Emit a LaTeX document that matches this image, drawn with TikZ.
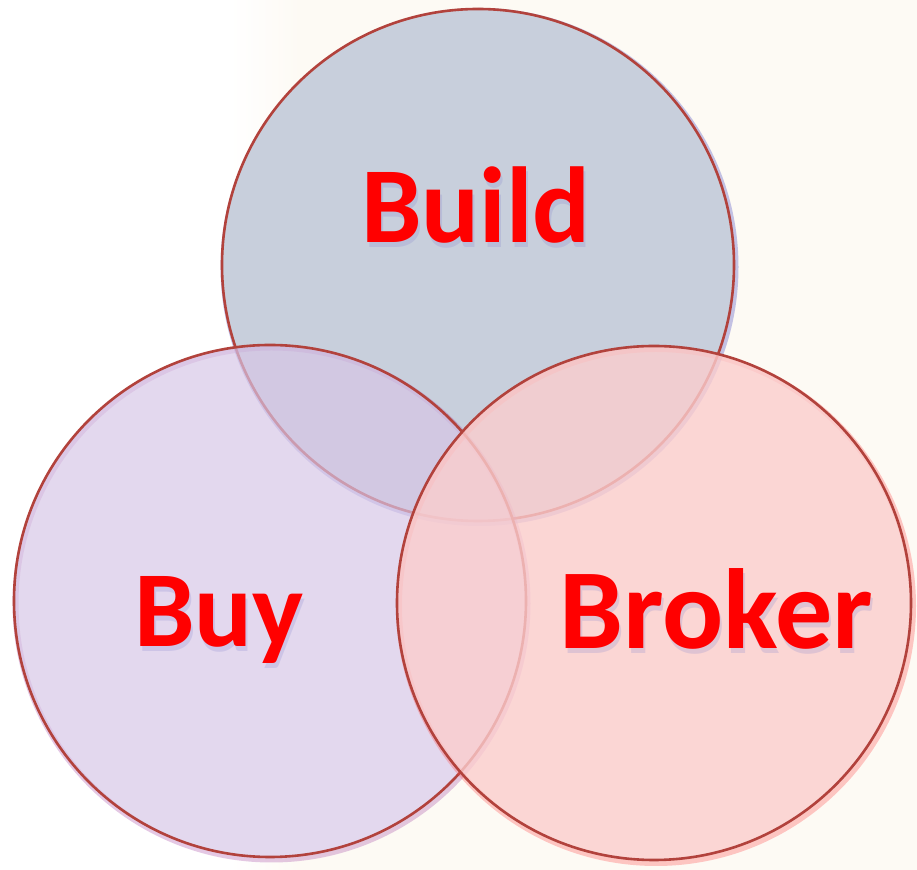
\documentclass[tikz,border=0pt]{standalone}
\usepackage{fontspec}
\setmainfont{Carlito}
\usepackage{tikz}
\definecolor{rim}{RGB}{178,66,60}
\definecolor{buildfill}{RGB}{200,207,220}
\definecolor{buyfill}{RGB}{215,198,230}
\definecolor{brokerfill}{RGB}{251,205,205}
\definecolor{wordred}{RGB}{255,0,0}
\definecolor{paper}{RGB}{253,250,244}
\tikzset{
    disc/.style={
            circle,
    draw=rim, line width=1.3pt,
    inner sep=0pt,
    minimum size=#1},
  glow/.style={draw=#1, line width=3pt, draw opacity=0.3},
  word/.style={
    text=wordred,
    font=\bfseries\fontsize{#1}{60}\selectfont,
    anchor=base, inner sep=0pt},
  wordshade/.style={word=#1, text=black!40!blue!50, text opacity=0.22},
}

\begin{document}
\begin{tikzpicture}[x=0.5pt,y=-0.5pt]

  %% Background
  \useasboundingbox (0,0) rectangle (917,870);
  \fill[paper] (0,0) rectangle (917,870);
  \fill[white] (0,0) rectangle (230,870);
  \shade[left color=white, right color=paper] (230,0) rectangle (300,870);
  \fill[white] (270,601) circle (256);

  %% Draw Circles
  \draw[glow=blue!50!gray] (479.5,267) circle (256);
  \node[disc=256pt, fill=buildfill] (build) at (478,265) {};
  \draw[glow=violet!70] (271.5,603.5) circle (256);
  \node[disc=256pt, fill=buyfill, fill opacity=0.68] (buy) at (270,601) {};
  \draw[glow=red!70] (656,606) circle (257);
  \node[disc=257pt, fill=brokerfill, fill opacity=0.8] (broker) at (654,603) {};

  %% Draw Labels
  \foreach \x/\y/\z/\n/\s in {476/243/Build/build/54,
                     219/647/Buy/buy/54,
                     716/649/Broker/broker/57
                     }{
 \node[wordshade=\s] (\n shade) at (\x+2,\y+5) {\z};
 \node[word=\s] (\n text) at (\x,\y) {\z};
 }

\end{tikzpicture}
\end{document}
